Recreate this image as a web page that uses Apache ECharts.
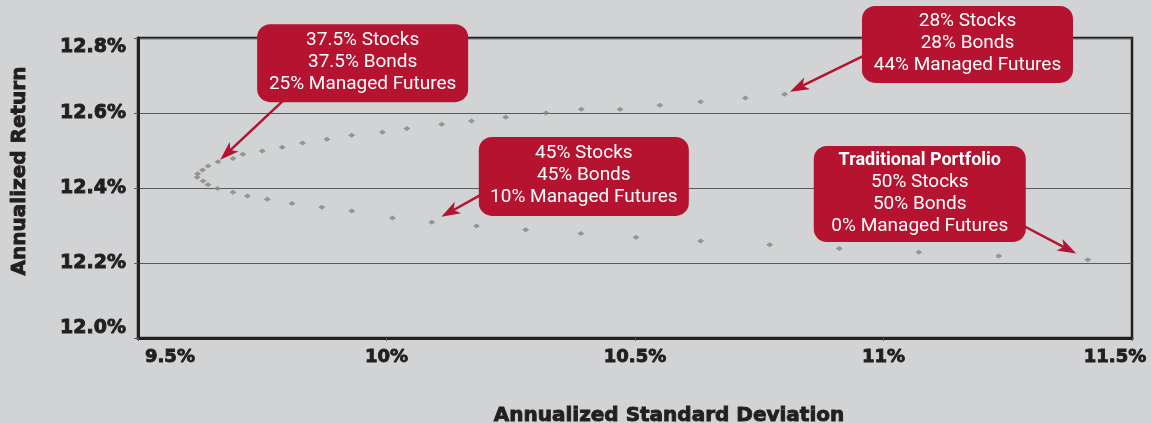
<!DOCTYPE html>
<html>
<head>
<meta charset="utf-8">
<title>Annualized Return vs Standard Deviation</title>
<script src="https://cdn.jsdelivr.net/npm/echarts@6.0.0/dist/echarts.min.js"></script>
<style>
  html, body { margin: 0; padding: 0; background: #d1d3d4; }
  #chart { width: 1151px; height: 423px; }
</style>
</head>
<body>
<div id="chart"></div>
<script>
// portfolios from 28/28/44 (top right) round the nose down to 50/50/0 (bottom right)
const stdDev = [
  10.801, 10.722, 10.632, 10.550, 10.470, 10.392, 10.321, 10.240, 10.171, 10.111,
  10.041, 9.992, 9.930, 9.880, 9.831, 9.790, 9.750, 9.711, 9.691, 9.661,
  9.641, 9.630, 9.620, 9.619, 9.631, 9.641, 9.660, 9.691, 9.720, 9.760,
  9.810, 9.870, 9.930, 10.012, 10.091, 10.181, 10.280, 10.391, 10.502, 10.632,
  10.771, 10.911, 11.071, 11.232, 11.411
]
const annReturn = [
  12.650, 12.640, 12.630, 12.621, 12.610, 12.610, 12.600, 12.589, 12.579, 12.570,
  12.559, 12.549, 12.541, 12.530, 12.520, 12.509, 12.499, 12.490, 12.479, 12.470,
  12.459, 12.448, 12.438, 12.429, 12.419, 12.409, 12.399, 12.389, 12.379, 12.370,
  12.359, 12.349, 12.339, 12.320, 12.309, 12.299, 12.289, 12.279, 12.269, 12.259,
  12.249, 12.239, 12.229, 12.219, 12.209
]
const xTicks = [9.5, 10, 10.5, 11, 11.5]
const yTicks = [12.0, 12.2, 12.4, 12.6, 12.8]

// callouts: text and the portfolio (index above) each one points at
const calloutTitle = ['', '', '', 'Traditional Portfolio']
const calloutLines = [
  ['28% Stocks', '28% Bonds', '44% Managed Futures'],
  ['37.5% Stocks', '37.5% Bonds', '25% Managed Futures'],
  ['45% Stocks', '45% Bonds', '10% Managed Futures'],
  ['50% Stocks', '50% Bonds', '0% Managed Futures']
]
const calloutTarget = [0, 19, 34, 44]

// where the boxes sit (in axis units) and how big they are
const calloutLayout = [
  { at: [11.169, 12.783], w: 211, h: 77, from: [-105, 12], gap: 6 },
  { at: [9.952, 12.733], w: 211, h: 78, from: [-80, 38], gap: 3 },
  { at: [10.397, 12.431], w: 210, h: 79, from: [-104, 19], gap: 11 },
  { at: [11.073, 12.384], w: 212, h: 96, from: [104, 32], gap: 13 }
]

const RED = '#b5132f'
const INK = '#231f20'
const GRID = '#58595b'
// heavy black lettering: bold face plus a thin stroke of the same ink
const labelFont = {
  color: INK, fontFamily: 'DejaVu Sans', fontWeight: 'bold', fontSize: 18,
  textBorderColor: INK, textBorderWidth: 0.9
}

const chart = echarts.init(document.getElementById('chart'), null, { renderer: 'canvas' })

chart.setOption({
  backgroundColor: '#d1d3d4',
  animation: false,
  grid: {
    left: 138, right: 19, top: 38, bottom: 85,
    containLabel: false,
    outerBoundsMode: 'none',
    show: true,
    borderColor: INK,
    borderWidth: 2.5,
    backgroundColor: 'transparent'
  },
  xAxis: {
    type: 'value',
    min: xTicks[0],
    max: xTicks[xTicks.length - 1],
    interval: 0.5,
    axisLine: { show: true, lineStyle: { color: INK, width: 3 } },
    axisTick: { show: true, length: 3, lineStyle: { color: GRID } },
    splitLine: { show: false },
    axisLabel: {
      ...labelFont,
      margin: 10,
      alignMinLabel: 'left',
      formatter: (v) => {
        if (v === xTicks[0]) return '{first|' + v + '%}'
        if (v === xTicks[xTicks.length - 1]) return '{last|' + v + '%}'
        return v + '%'
      },
      rich: {
        first: { ...labelFont, padding: [0, 0, 0, 7] },
        last: { ...labelFont, padding: [0, 34, 0, 0] }
      }
    },
    name: 'Annualized Standard Deviation',
    nameLocation: 'middle',
    nameGap: 68,
    nameTextStyle: {
      ...labelFont,
      fontSize: 20,
      padding: [0, 0, 0, 68]
    }
  },
  yAxis: {
    type: 'value',
    min: yTicks[0],
    max: yTicks[yTicks.length - 1],
    interval: 0.2,
    axisLine: { show: true, lineStyle: { color: INK, width: 3 } },
    axisTick: { show: true, length: 4, lineStyle: { color: GRID } },
    splitLine: { show: true, lineStyle: { color: GRID, width: 1 } },
    axisLabel: {
      ...labelFont,
      fontSize: 19,
      margin: 12,
      verticalAlignMinLabel: 'bottom',
      verticalAlignMaxLabel: 'top',
      formatter: (v) => v.toFixed(1) + '%'
    },
    name: 'Annualized Return',
    nameLocation: 'middle',
    nameGap: 108,
    nameTextStyle: {
      ...labelFont,
      fontSize: 20,
      padding: [0, 0, 0, 34]
    }
  },
  series: [{
    type: 'scatter',
    data: stdDev.map((x, i) => [x, annReturn[i]]),
    symbol: 'diamond',
    symbolSize: [7, 5],
    itemStyle: { color: '#858585' },
    emphasis: { disabled: true },
    silent: true
  }]
})

// callout boxes and arrows, placed through the grid's own scales
function buildCallouts () {
  const els = []
  calloutLayout.forEach((c, k) => {
    const [cx, cy] = chart.convertToPixel({ gridIndex: 0 }, c.at)
    const p = chart.convertToPixel({ gridIndex: 0 }, [stdDev[calloutTarget[k]], annReturn[calloutTarget[k]]])
    const sx = cx + c.from[0]
    const sy = cy + c.from[1]
    // arrow tip stops just short of the marker
    const dx = sx - p[0]
    const dy = sy - p[1]
    const len = Math.hypot(dx, dy)
    const tx = p[0] + dx / len * c.gap
    const ty = p[1] + dy / len * c.gap
    const ux = (tx - sx) / Math.hypot(tx - sx, ty - sy)
    const uy = (ty - sy) / Math.hypot(tx - sx, ty - sy)
    const L = 19, W = 6.5, notch = 5
    const bx = tx - ux * L, by = ty - uy * L
    const nx = tx - ux * (L - notch), ny = ty - uy * (L - notch)
    els.push({
      type: 'line', z: 10,
      shape: { x1: sx, y1: sy, x2: nx, y2: ny },
      style: { stroke: RED, lineWidth: 2.5 }
    })
    els.push({
      type: 'polygon', z: 10,
      shape: { points: [[tx, ty], [bx - uy * W, by + ux * W], [nx, ny], [bx + uy * W, by - ux * W]] },
      style: { fill: RED }
    })
    els.push({
      type: 'rect', z: 11,
      shape: { x: cx - c.w / 2, y: cy - c.h / 2, width: c.w, height: c.h, r: 13 },
      style: { fill: RED }
    })
    let txt = calloutLines[k].join('\n')
    if (calloutTitle[k]) txt = '{b|' + calloutTitle[k] + '}\n' + txt
    els.push({
      type: 'text', z: 12,
      x: cx, y: cy - 1,
      style: {
        text: txt,
        fill: '#fff',
        font: '19px Roboto',
        lineHeight: 22,
        align: 'center',
        verticalAlign: 'middle',
        rich: { b: { fontFamily: 'Roboto', fontWeight: 'bold', fontSize: 18, fill: '#fff', lineHeight: 22 } }
      }
    })
  })
  return els
}

chart.setOption({ graphic: buildCallouts() })
</script>
</body>
</html>
